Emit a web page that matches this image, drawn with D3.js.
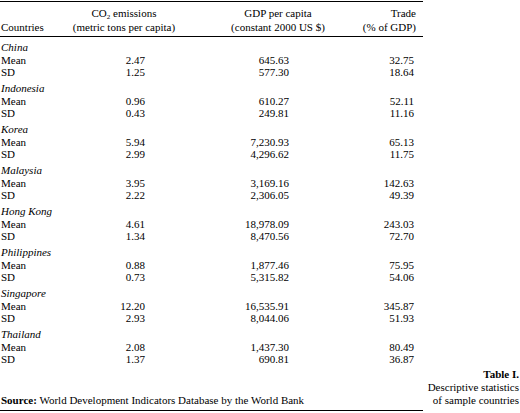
<!DOCTYPE html>
<html><head><meta charset="utf-8">
<script src="https://cdn.jsdelivr.net/npm/d3@7"></script>
<style>body{margin:0;background:#fff} text{font-family:"Liberation Serif","Times New Roman","DejaVu Serif",serif;font-size:11px}</style></head>
<body><svg id="c" width="520" height="413"></svg>
<script>
const countries=["China","Indonesia","Korea","Malaysia","Hong Kong","Philippines","Singapore","Thailand"];
const co2Mean=["2.47","0.96","5.94","3.95","4.61","0.88","12.20","2.08"];
const co2SD=["1.25","0.43","2.99","2.22","1.34","0.73","2.93","1.37"];
const gdpMean=["645.63","610.27","7,230.93","3,169.16","18,978.09","1,877.46","16,535.91","1,437.30"];
const gdpSD=["577.30","249.81","4,296.62","2,306.05","8,470.56","5,315.82","8,044.06","690.81"];
const tradeMean=["32.75","52.11","65.13","142.63","243.03","75.95","345.87","80.49"];
const tradeSD=["18.64","11.16","11.75","49.39","72.70","54.06","51.93","36.87"];

const svg=d3.select("#c").attr("fill","#000");
const y=d3.scaleLinear().domain([0,countries.length]).range([51,379]);
const line=(yy)=>svg.append("line").attr("x1",0).attr("x2",423).attr("y1",yy).attr("y2",yy).attr("stroke","#000").attr("stroke-width",1);
line(1.5);line(36.5);line(410.5);
const t=(x,yy,s,a)=>svg.append("text").attr("x",x).attr("y",yy).attr("text-anchor",a||"start").text(s);
const co2=svg.append("text").attr("x",124).attr("y",17).attr("text-anchor","middle");
co2.append("tspan").text("CO");co2.append("tspan").style("font-size","7px").attr("dy",2).text("2");
co2.append("tspan").attr("dy",-2).text(" emissions");
t(124,31,"(metric tons per capita)","middle");
t(278,17,"GDP per capita","middle");t(278,31,"(constant 2000 US $)","middle");
t(416,17,"Trade","end");t(416,31,"(% of GDP)","end");
t(1,31,"Countries");
const g=svg.selectAll("g.r").data(countries).join("g").attr("transform",(d,i)=>`translate(0,${y(i)})`);
g.append("text").attr("x",1).attr("font-style","italic").text(d=>d);
g.append("text").attr("x",1).attr("y",12.5).text("Mean");
g.append("text").attr("x",1).attr("y",25).text("SD");
const cols=[[145,co2Mean,co2SD],[289,gdpMean,gdpSD],[414,tradeMean,tradeSD]];
cols.forEach(([x,m,s])=>{
 g.append("text").attr("x",x).attr("y",12.5).attr("text-anchor","end").text((d,i)=>m[i]);
 g.append("text").attr("x",x).attr("y",25).attr("text-anchor","end").text((d,i)=>s[i]);
});
const src=svg.append("text").attr("x",1).attr("y",404);
src.append("tspan").attr("font-weight","bold").text("Source:");
src.append("tspan").text(" World Development Indicators Database by the World Bank");
t(519,378,"Table I.","end").attr("font-weight","bold");
t(519,391,"Descriptive statistics","end");
t(519,404,"of sample countries","end");
</script></body></html>
